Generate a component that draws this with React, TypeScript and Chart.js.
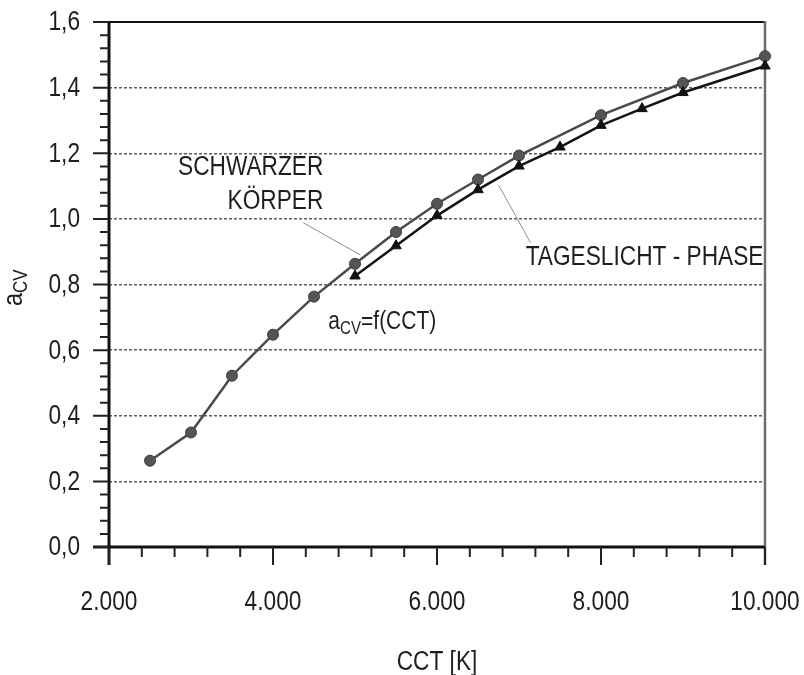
import React, { useEffect, useRef } from 'react';
import { Chart, registerables } from 'chart.js';

Chart.register(...registerables);

// ---- data ----
const blackBodyCCT = [2500, 3000, 3500, 4000, 4500, 5000, 5500, 6000, 6500, 7000, 8000, 9000, 10000];
const blackBodyA = [0.263, 0.349, 0.522, 0.647, 0.763, 0.863, 0.96, 1.046, 1.12, 1.193, 1.316, 1.414, 1.496];
const daylightCCT = [5000, 5500, 6000, 6500, 7000, 7500, 8000, 8500, 9000, 10000];
const daylightA = [0.826, 0.918, 1.01, 1.089, 1.161, 1.219, 1.285, 1.336, 1.385, 1.466];

const xTickValues = [2000, 4000, 6000, 8000, 10000];
const xTickLabels = ['2.000', '4.000', '6.000', '8.000', '10.000'];
const yTickValues = [0, 0.2, 0.4, 0.6, 0.8, 1.0, 1.2, 1.4, 1.6];
const yTickLabels = ['0,0', '0,2', '0,4', '0,6', '0,8', '1,0', '1,2', '1,4', '1,6'];
const xMinorStep = 400;
const yMinorStep = 0.04;

const xTitle = 'CCT [K]';
const yTitleMain = 'a';
const yTitleSub = 'CV';

// annotation texts
const labelSchwarzer = 'SCHWARZER';
const labelKoerper = 'KÖRPER';
const labelTageslicht = 'TAGESLICHT - PHASE';
const formulaMain = 'a';
const formulaSub = 'CV';
const formulaRest = '=f(CCT)';

const FONT = '"Liberation Sans", Arial, sans-serif';
const SX = 0.84; // condensed look

function textN(ctx: CanvasRenderingContext2D, s: string, x: number, y: number, size: number, align: CanvasTextAlign) {
  ctx.save();
  ctx.font = `${size}px ${FONT}`;
  ctx.textAlign = align;
  ctx.translate(x, y);
  ctx.scale(SX, 1);
  ctx.fillText(s, 0, 0);
  ctx.restore();
}

function widthN(ctx: CanvasRenderingContext2D, s: string, size: number) {
  ctx.save();
  ctx.font = `${size}px ${FONT}`;
  const w = ctx.measureText(s).width * SX;
  ctx.restore();
  return w;
}

function drawSub(ctx: CanvasRenderingContext2D, main: string, sub: string, rest: string,
  x: number, y: number, mainSize: number, subSize: number, shift: number) {
  ctx.textBaseline = 'alphabetic';
  textN(ctx, main, x, y, mainSize, 'left');
  let cx = x + widthN(ctx, main, mainSize);
  textN(ctx, sub, cx, y + shift, subSize, 'left');
  cx += widthN(ctx, sub, subSize);
  if (rest) textN(ctx, rest, cx, y, mainSize, 'left');
}

const overlay = {
  id: 'overlay',
  beforeDatasetsDraw(chart: any) {
    const { ctx, chartArea: a, scales } = chart;
    const x = scales.x;
    const y = scales.y;
    ctx.save();
    // leader lines
    ctx.strokeStyle = '#8c8c8c';
    ctx.lineWidth = 1;
    ctx.beginPath();
    ctx.moveTo(x.getPixelForValue(4370), y.getPixelForValue(0.988));
    ctx.lineTo(x.getPixelForValue(5066), y.getPixelForValue(0.89));
    ctx.moveTo(x.getPixelForValue(6751), y.getPixelForValue(1.103));
    ctx.lineTo(x.getPixelForValue(7142), y.getPixelForValue(0.927));
    ctx.stroke();

    // frame
    ctx.lineCap = 'butt';
    ctx.strokeStyle = '#111';
    ctx.lineWidth = 2;
    ctx.beginPath();
    ctx.moveTo(a.left - 16, a.top);
    ctx.lineTo(a.right, a.top);
    ctx.stroke();
    ctx.strokeStyle = '#6e6e6e';
    ctx.lineWidth = 2.5;
    ctx.beginPath();
    ctx.moveTo(a.right, a.top - 1);
    ctx.lineTo(a.right, a.bottom + 18);
    ctx.stroke();
    ctx.strokeStyle = '#111';
    ctx.lineWidth = 3;
    ctx.beginPath();
    ctx.moveTo(a.left, a.top - 1);
    ctx.lineTo(a.left, a.bottom + 18);
    ctx.moveTo(a.left - 16, a.bottom);
    ctx.lineTo(a.right, a.bottom);
    ctx.stroke();

    // y ticks
    ctx.lineWidth = 2;
    ctx.strokeStyle = '#222';
    ctx.beginPath();
    for (const v of yTickValues) {
      const py = y.getPixelForValue(v);
      ctx.moveTo(a.left - 16, py);
      ctx.lineTo(a.left, py);
    }
    const yMax = yTickValues[yTickValues.length - 1];
    for (let i = 0; i * yMinorStep <= yMax + 1e-9; i++) {
      if (i % 5 === 0) continue;
      const py = y.getPixelForValue(i * yMinorStep);
      ctx.moveTo(a.left - 9, py);
      ctx.lineTo(a.left, py);
    }
    // x ticks
    for (const v of xTickValues) {
      const px = x.getPixelForValue(v);
      ctx.moveTo(px, a.bottom);
      ctx.lineTo(px, a.bottom + 18);
    }
    const x0 = xTickValues[0];
    const x1 = xTickValues[xTickValues.length - 1];
    for (let v = x0; v <= x1; v += xMinorStep) {
      if ((v - x0) % 2000 === 0) continue;
      const px = x.getPixelForValue(v);
      ctx.moveTo(px, a.bottom);
      ctx.lineTo(px, a.bottom + 10);
    }
    ctx.stroke();
    ctx.restore();
  },
  afterDraw(chart: any) {
    const { ctx, chartArea: a, scales } = chart;
    const x = scales.x;
    const y = scales.y;
    ctx.save();
    ctx.fillStyle = '#1e1e1e';
    ctx.textBaseline = 'middle';
    // y tick labels
    yTickValues.forEach((v, i) => {
      textN(ctx, yTickLabels[i], a.left - 29, y.getPixelForValue(v) + 1, 27, 'right');
    });
    // x tick labels
    xTickValues.forEach((v, i) => {
      textN(ctx, xTickLabels[i], x.getPixelForValue(v), a.bottom + 56, 27, 'center');
    });
    // x title
    textN(ctx, xTitle, (a.left + a.right) / 2, a.bottom + 116, 27, 'center');

    // y title (rotated)
    ctx.save();
    ctx.translate(22, 306);
    ctx.rotate(-Math.PI / 2);
    drawSub(ctx, yTitleMain, yTitleSub, '', 0, 0, 28, 20, 5);
    ctx.restore();

    // annotations
    ctx.textBaseline = 'middle';
    textN(ctx, labelSchwarzer, x.getPixelForValue(4614), y.getPixelForValue(1.155), 27, 'right');
    textN(ctx, labelKoerper, x.getPixelForValue(4614), y.getPixelForValue(1.052), 27, 'right');
    textN(ctx, labelTageslicht, x.getPixelForValue(7081), y.getPixelForValue(0.881), 27, 'left');
    drawSub(ctx, formulaMain, formulaSub, formulaRest,
      x.getPixelForValue(4675), y.getPixelForValue(0.665), 25, 18, 5);
    ctx.restore();
  },
};

export default function App() {
  const ref = useRef<HTMLCanvasElement>(null);
  useEffect(() => {
    if (!ref.current) return;
    const chart = new Chart(ref.current, {
      type: 'scatter',
      data: {
        datasets: [
          {
            label: 'Tageslicht-Phase',
            data: daylightCCT.map((c, i) => ({ x: c, y: daylightA[i] })),
            showLine: true,
            borderColor: '#141414',
            borderWidth: 2.5,
            pointStyle: 'triangle',
            pointRadius: 6,
            pointBackgroundColor: '#111',
            pointBorderColor: '#111',
            pointBorderWidth: 1,
            clip: false,
          } as any,
          {
            label: 'Schwarzer Körper',
            data: blackBodyCCT.map((c, i) => ({ x: c, y: blackBodyA[i] })),
            showLine: true,
            borderColor: '#4a4a4a',
            borderWidth: 2.5,
            pointStyle: 'circle',
            pointRadius: 5.5,
            pointBackgroundColor: '#555',
            pointBorderColor: '#3a3a3a',
            pointBorderWidth: 1,
            clip: false,
          } as any,
        ],
      },
      options: {
        responsive: false,
        maintainAspectRatio: false,
        devicePixelRatio: 1,
        animation: false,
        layout: { padding: { left: 109, right: 39, top: 22, bottom: 128 } },
        plugins: { legend: { display: false }, tooltip: { enabled: false } },
        scales: {
          x: {
            type: 'linear',
            min: 2000,
            max: 10000,
            grid: { display: false, drawTicks: false },
            border: { display: false },
            ticks: { display: false },
          },
          y: {
            type: 'linear',
            min: 0,
            max: 1.6,
            ticks: { display: false, stepSize: 0.2 },
            grid: {
              drawTicks: false,
              lineWidth: 1.5,
              color: (c: any) => {
                const v = c.tick ? c.tick.value : 0;
                return v < 0.01 || v > 1.59 ? 'rgba(0,0,0,0)' : '#5e5e5e';
              },
            },
            border: { display: false, dash: [3, 2] },
          },
        },
      },
      plugins: [overlay],
    });
    return () => chart.destroy();
  }, []);
  return (
    <div style={{ position: 'absolute', left: 0, top: 0, width: 804, height: 675, background: '#fff' }}>
      <canvas ref={ref} width={804} height={675} style={{ display: 'block' }} />
    </div>
  );
}
